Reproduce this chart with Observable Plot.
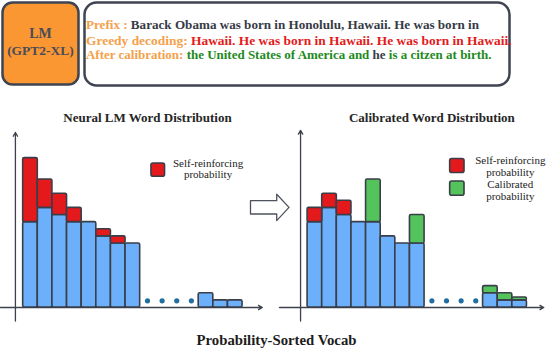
<!DOCTYPE html>
<html>
<head>
<meta charset="utf-8">
<script src="https://cdn.jsdelivr.net/npm/d3@7"></script>
<script src="https://cdn.jsdelivr.net/npm/@observablehq/plot@0.6"></script>
<style>
  html, body { margin: 0; padding: 0; background: #fff; }
  #page { position: relative; width: 546px; height: 348px; overflow: hidden; font-family: "Liberation Serif", "DejaVu Serif", serif; }
  #page svg, #page svg text { font-family: "Liberation Serif", "DejaVu Serif", serif !important; }
  .abs { position: absolute; }
</style>
</head>
<body>
<div id="page">
  <svg id="header" class="abs" style="left:0;top:0" width="546" height="95">
    <rect x="2.5" y="2.5" width="76" height="82" rx="10" fill="#fa9733" stroke="#3e4450" stroke-width="2.5"/>
    <text x="40.5" y="38" text-anchor="middle" font-weight="bold" font-size="14" fill="#4a4c58">LM</text>
    <text x="40.5" y="55" text-anchor="middle" font-weight="bold" font-size="13.5" fill="#4a4c58">(GPT2-XL)</text>
    <rect x="84.5" y="2.5" width="425" height="83" rx="12" fill="#fff" stroke="#3e4450" stroke-width="2.5"/>
    <g id="promptLines" font-weight="bold" font-size="12.5"></g>
  </svg>
  <svg class="abs" style="left:0;top:0" width="546" height="348" pointer-events="none">
    <path d="M250.5,200.7 H276.7 V194.2 L289,207.4 L276.7,220.6 V214 H250.5 Z" fill="#fff" stroke="#4d525c" stroke-width="1.3" stroke-linejoin="round"/>
  </svg>
  <div id="left" class="abs" style="left:0;top:100px"></div>
  <div id="right" class="abs" style="left:279px;top:100px"></div>
  <svg class="abs" style="left:0;top:320px" width="546" height="28">
    <text x="276.5" y="25" text-anchor="middle" font-weight="bold" font-size="14.5" fill="#1c1c1c" textLength="160" lengthAdjust="spacingAndGlyphs">Probability-Sorted Vocab</text>
  </svg>
</div>
<script>
// ---------- data ----------
const vocabSlots = [0, 1, 2, 3, 4, 5, 6, 7, 12, 13, 14];        // probability-sorted vocab rank
const baseProb = [12, 14, 13, 12, 12, 10, 9, 9, 2, 1, 1];          // blue part
const lmSelfReinforcing = [9, 4, 3, 2, 0, 1, 1, 0, 0, 0, 0];       // red, neural LM
const calSelfReinforcing = [2, 2, 2, 0, 0, 0, 0, 0, 0, 0, 0];      // red, calibrated
const calCalibrated = [0, 0, 0, 0, 6, 0, 0, 4, 1, 1, 0.4];         // green, calibrated
const ellipsisSlots = [8, 9, 10, 11];
const chartTitles = ["Neural LM Word Distribution", "Calibrated Word Distribution"];
const legendLabels = ["Self-reinforcing\nprobability", "Calibrated\nprobability"];
const promptLines = [
  [["Prefix : ", "orange"], ["Barack Obama was born in Honolulu, Hawaii. He was born in", "dark"]],
  [["Greedy decoding: ", "orange"], ["Hawaii. He was born in Hawaii. He was born in Hawaii.", "red"]],
  [["After calibration: ", "orange"], ["the United States of America and ", "green"], ["he ", "dark"], ["is a citzen at birth.", "green"]]
];

// ---------- styles ----------
const BLUE = "#6cb0fb", RED = "#e4191c", GREEN = "#55c35c", EDGE = "#393e49", AXIS = "#3c414c", DOTC = "#1f6fa0";
const textColors = {orange: "#f5a04a", dark: "#363b46", red: "#e41b1b", green: "#1e8a1e"};

// header text
const lineY = [29.3, 45, 59.3];
const lineLen = [393, 425.5, 405.5];
const g = d3.select("#promptLines");
promptLines.forEach((segs, i) => {
  const t = g.append("text").attr("x", 86).attr("y", lineY[i])
    .attr("textLength", lineLen[i]).attr("lengthAdjust", "spacingAndGlyphs");
  segs.forEach(([s, c]) => t.append("tspan").attr("fill", textColors[c]).attr("xml:space", "preserve").text(s));
});

function makeChart({extras, domain, axisX, axisTop, arrowEnd, title, legendRects, legendText}) {
  const bars = vocabSlots.map((s, i) => ({slot: s, v: baseProb[i]}));
  const tops = [];
  extras.forEach(({values, color}) => values.forEach((v, i) => {
    if (v > 0) tops.push({slot: vocabSlots[i], y1: baseProb[i], y2: baseProb[i] + v, color});
  }));
  return Plot.plot({
    width: Math.round((domain[1] - domain[0]) * 14.6),
    height: 225,
    marginLeft: 0, marginRight: 0, marginTop: 0, marginBottom: 18,
    x: {domain, axis: null},
    y: {domain: [0, 29.1], axis: null},
    style: {background: "transparent", overflow: "visible", fontFamily: "Liberation Serif, serif"},
    marks: [
      Plot.arrow([0], {x1: domain[0], x2: arrowEnd, y1: 0, y2: 0, stroke: AXIS, strokeWidth: 1.3, headLength: 5}),
      Plot.arrow([0], {x1: axisX, x2: axisX, y1: -1.9, y2: axisTop, stroke: AXIS, strokeWidth: 1.3, headLength: 5}),
      Plot.rect(bars, {x1: d => d.slot, x2: d => d.slot + 1, y1: 0, y2: "v", fill: BLUE, stroke: EDGE, strokeWidth: 1.6, rx: 1.5}),
      Plot.rect(tops, {x1: d => d.slot, x2: d => d.slot + 1, y1: "y1", y2: "y2", fill: "color", stroke: EDGE, strokeWidth: 1.6, rx: 1.5}),
      Plot.dot(ellipsisSlots, {x: d => d + 0.5, y: 0.94, r: 2.6, fill: DOTC, stroke: null}),
      Plot.text([title], {x: 8.5, y: 26.7, text: d => d, fontSize: 13, fontWeight: "bold", fill: "#262626"}),
      Plot.rect(legendRects, {x1: "x1", x2: "x2", y1: "y1", y2: "y2", fill: "color", stroke: EDGE, strokeWidth: 1.6, rx: 2}),
      Plot.text([legendText.text], {x: legendText.x, y: legendText.y, text: d => d, fontSize: 11, lineHeight: legendText.lh, fill: "#222"})
    ]
  });
}

document.getElementById("left").append(makeChart({
  extras: [{values: lmSelfReinforcing, color: RED}],
  domain: [-1.55, 16.5], axisX: -0.53, axisTop: 24.6, arrowEnd: 16.35,
  title: chartTitles[0],
  legendRects: [{x1: 8.77, x2: 9.7, y1: 18.38, y2: 20.25, color: RED}],
  legendText: {text: legendLabels[0], x: 12.64, y: 19.5, lh: 0.97}
}));

document.getElementById("right").append(makeChart({
  extras: [{values: calSelfReinforcing, color: RED}, {values: calCalibrated, color: GREEN}],
  domain: [-1.92, 16.2], axisX: -0.48, axisTop: 24.9, arrowEnd: 16.15,
  title: chartTitles[1],
  legendRects: [
    {x1: 9.75, x2: 10.73, y1: 18.9, y2: 20.87, color: RED},
    {x1: 9.75, x2: 10.73, y1: 15.71, y2: 17.72, color: GREEN}
  ],
  legendText: {text: legendLabels.join("\n"), x: 13.86, y: 18.21, lh: 1.08}
}));
</script>
</body>
</html>
